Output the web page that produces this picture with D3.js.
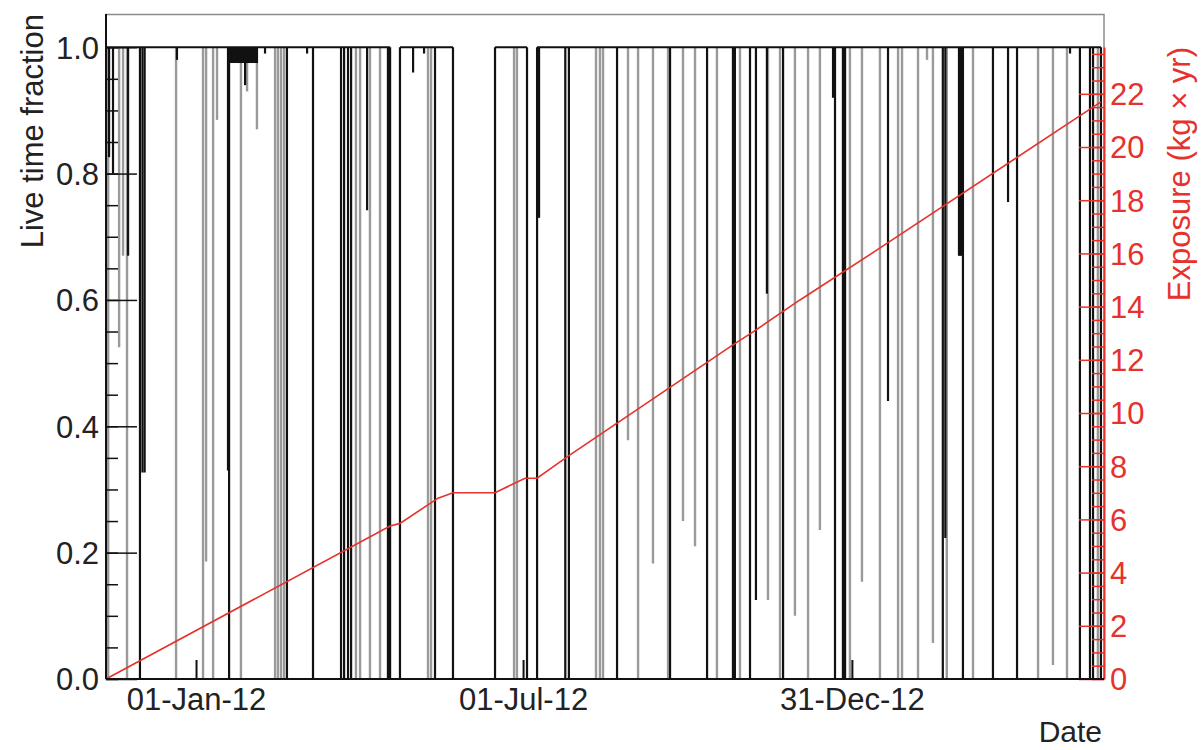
<!DOCTYPE html>
<html>
<head>
<meta charset="utf-8">
<script src="https://cdn.jsdelivr.net/npm/d3@7"></script>
<style>
  body { margin: 0; background: #fff; }
  text { font-family: Arial, "Liberation Sans", Helvetica, sans-serif; }
</style>
</head>
<body>
<svg id="chart" width="1201" height="750"></svg>
<script>
// time is given in days since 01-Jan-2012
const runRange = [-50.1, 503.6];
const noDataPeriods = [[108.0, 113.5], [143.0, 166.4], [184.2, 189.8]];
const noisyPeriod = [17.8, 34.5, 0.975];

// dips of the live time fraction: [day, lowest value]
const longGaps = [
  [-48.4, 0.826], [-46.2, 0.80], [-37.8, 0.67], [-31.2, 0], [-29.8, 0.327], [-28.6, 0.327],
  [-10.6, 0.98], [17.8, 0.33], [18.4, 0], [27.3, 0.94], [38.4, 0.99], [50.6, 0],
  [61.8, 0.99], [65.1, 0], [80.7, 0], [82.4, 0], [84.6, 0], [86.3, 0], [95.2, 0.742],
  [106.8, 0], [120.8, 0.96], [126.9, 0.99], [133.0, 0], [190.9, 0.73],
  [205.5, 0], [207.5, 0], [234.3, 0], [263.8, 0], [284.4, 0], [298.8, 0], [299.9, 0],
  [308.3, 0], [311.6, 0.125], [317.7, 0.61], [326.7, 0], [354.5, 0.92], [355.6, 0],
  [360.0, 0], [361.2, 0], [385.1, 0.44], [415.6, 0], [417.0, 0.223],
  [424.6, 0.67], [425.2, 0.67], [425.8, 0.67], [426.8, 0], [443.5, 0], [451.9, 0.755],
  [456.9, 0], [486.4, 0.99], [491.9, 0], [497.5, 0], [499.2, 0]
];
const shortGaps = [
  [-49.6, 0], [-48.9, 0], [-42.8, 0.525], [-40.6, 0.67], [-38.4, 0], [-11.1, 0],
  [3.9, 0], [5.6, 0.186], [9.5, 0], [11.7, 0.885], [25.0, 0], [28.4, 0.93], [33.9, 0.87],
  [44.0, 0], [45.6, 0], [47.3, 0], [49.0, 0], [89.0, 0], [91.3, 0], [96.8, 0], [102.4, 0],
  [129.1, 0], [130.8, 0], [177.0, 0], [178.6, 0], [222.6, 0], [224.8, 0], [226.5, 0],
  [240.4, 0.378], [246.0, 0], [254.3, 0.183], [262.7, 0], [271.0, 0.25], [277.7, 0.21],
  [289.9, 0], [302.7, 0], [318.3, 0.125], [325.0, 0], [333.3, 0.10], [340.6, 0],
  [347.2, 0.236], [363.9, 0], [370.6, 0.154], [380.6, 0], [390.7, 0], [392.9, 0],
  [401.8, 0], [406.8, 0.98], [410.1, 0.057], [417.8, 0], [432.4, 0], [468.6, 0],
  [476.9, 0.022], [484.7, 0], [501.9, 0]
];

// cumulative exposure (kg x yr)
const exposureDays = [-50.1, 108.0, 113.5, 134.7, 143.0, 166.4, 183.1, 189.8, 206.5, 298.8, 310.0, 336.1, 379.0, 503.6];
const exposureValues = [0, 5.75, 5.85, 6.8, 7.0, 7.0, 7.55, 7.55, 8.35, 12.56, 13.05, 14.25, 16.13, 21.7];

const xTickDays = [0, 182, 365];
const xTickLabels = ['01-Jan-12', '01-Jul-12', '31-Dec-12'];
const leftTicks = [0, 0.2, 0.4, 0.6, 0.8, 1.0];
const rightTicks = [0, 2, 4, 6, 8, 10, 12, 14, 16, 18, 20, 22];

const DAY0 = Date.UTC(2012, 0, 1);
const toDate = d => new Date(DAY0 + d * 864e5);

const red = '#e6322c';
const svg = d3.select('#chart');
const L = 106, R = 1104, T = 14, B = 679;

const x = d3.scaleUtc().domain([toDate(-50.1), toDate(505.3)]).range([L, R]);
const yL = d3.scaleLinear().domain([0, 1.0526]).range([B, T]);
const yR = d3.scaleLinear().domain([0, 23.76]).range([B, 47]);

// frame
svg.append('rect')
  .attr('x', L).attr('y', T + 0.5)
  .attr('width', R - L).attr('height', B - T - 0.5)
  .attr('fill', 'none').attr('stroke', '#8c8c8c').attr('stroke-width', 1.5);

// dips
const drawGaps = (data, color, w) => {
  svg.append('g').selectAll('line')
    .data(data)
    .join('line')
    .attr('x1', d => x(toDate(d[0]))).attr('x2', d => x(toDate(d[0])))
    .attr('y1', yL(1)).attr('y2', d => yL(d[1]))
    .attr('stroke', color).attr('stroke-width', w);
};
drawGaps(shortGaps, '#9a9a9a', 2.4);
drawGaps(longGaps, '#111', 2.2);

// top level line with the periods without data
const edges = noDataPeriods.flat();
const segs = [];
let start = runRange[0];
noDataPeriods.forEach(p => { segs.push([start, p[0]]); start = p[1]; });
segs.push([start, runRange[1]]);

svg.append('g').selectAll('line')
  .data(segs)
  .join('line')
  .attr('x1', d => x(toDate(d[0]))).attr('x2', d => x(toDate(d[1])))
  .attr('y1', yL(1)).attr('y2', yL(1))
  .attr('stroke', '#111').attr('stroke-width', 2.2);

svg.append('g').selectAll('line')
  .data(edges.concat([runRange[1]]))
  .join('line')
  .attr('x1', d => x(toDate(d))).attr('x2', d => x(toDate(d)))
  .attr('y1', yL(1)).attr('y2', yL(0))
  .attr('stroke', '#111').attr('stroke-width', 2.2);

svg.append('rect')
  .attr('x', x(toDate(noisyPeriod[0])))
  .attr('y', yL(1))
  .attr('width', x(toDate(noisyPeriod[1])) - x(toDate(noisyPeriod[0])))
  .attr('height', yL(noisyPeriod[2]) - yL(1))
  .attr('fill', '#111');

// exposure
const expo = exposureDays.map((d, i) => [toDate(d), exposureValues[i]]);
svg.append('path')
  .datum(expo)
  .attr('d', d3.line().x(d => x(d[0])).y(d => yR(d[1])))
  .attr('fill', 'none').attr('stroke', red).attr('stroke-width', 1.6);

// left axis
svg.append('g')
  .attr('transform', `translate(${L},0)`)
  .call(d3.axisRight(yL).tickValues(d3.range(0, 21).map(i => i * 0.05)).tickSize(12).tickFormat('').tickSizeOuter(0))
  .call(g => g.select('.domain').remove())
  .call(g => g.selectAll('line').attr('stroke', '#111').attr('stroke-width', 1.5));

svg.append('g')
  .attr('transform', `translate(${L},0)`)
  .call(d3.axisRight(yL).tickValues(leftTicks).tickSize(31).tickFormat(d3.format('.1f')).tickSizeOuter(0))
  .call(g => g.select('.domain').remove())
  .call(g => g.selectAll('line').attr('stroke', '#111').attr('stroke-width', 1.5))
  .call(g => g.selectAll('text')
    .attr('x', -7).attr('text-anchor', 'end').attr('dy', '0.35em')
    .attr('font-size', 31).attr('fill', '#222'));

svg.append('line')
  .attr('x1', L).attr('x2', L).attr('y1', T).attr('y2', B)
  .attr('stroke', '#111').attr('stroke-width', 2);

// right axis
svg.append('g')
  .attr('transform', `translate(${R},0)`)
  .call(d3.axisLeft(yR).tickValues(d3.range(0, 48).map(i => i * 0.5)).tickSize(12).tickFormat('').tickSizeOuter(0))
  .call(g => g.select('.domain').remove())
  .call(g => g.selectAll('line').attr('stroke', red).attr('stroke-width', 1.5));

svg.append('g')
  .attr('transform', `translate(${R},0)`)
  .call(d3.axisLeft(yR).tickValues(rightTicks).tickSize(25).tickSizeOuter(0))
  .call(g => g.select('.domain').attr('stroke', red).attr('stroke-width', 2))
  .call(g => g.selectAll('line').attr('stroke', red).attr('stroke-width', 1.5))
  .call(g => g.selectAll('text')
    .attr('x', 6).attr('text-anchor', 'start').attr('dy', '0.35em')
    .attr('font-size', 31).attr('fill', red));

// bottom axis
svg.append('g')
  .attr('transform', `translate(0,${B})`)
  .call(d3.axisTop(x).tickValues(xTickDays.map(toDate)).tickSize(19).tickSizeOuter(0)
    .tickFormat((d, i) => xTickLabels[i]))
  .call(g => g.select('.domain').remove())
  .call(g => g.selectAll('line').attr('stroke', '#111').attr('stroke-width', 2))
  .call(g => g.selectAll('text')
    .attr('y', 31).attr('dy', 0).attr('font-size', 31).attr('fill', '#222'));

svg.append('line')
  .attr('x1', L).attr('x2', R).attr('y1', B).attr('y2', B)
  .attr('stroke', '#111').attr('stroke-width', 2);

// titles
svg.append('text')
  .attr('transform', 'translate(43,14) rotate(-90)')
  .attr('text-anchor', 'end').attr('font-size', 31).attr('fill', '#222')
  .text('Live time fraction');

svg.append('text')
  .attr('transform', 'translate(1190,47) rotate(-90)')
  .attr('text-anchor', 'end').attr('font-size', 31).attr('fill', red)
  .text('Exposure (kg × yr)');

svg.append('text')
  .attr('x', 1102).attr('y', 742)
  .attr('text-anchor', 'end').attr('font-size', 30).attr('fill', '#222')
  .text('Date');
</script>
</body>
</html>
